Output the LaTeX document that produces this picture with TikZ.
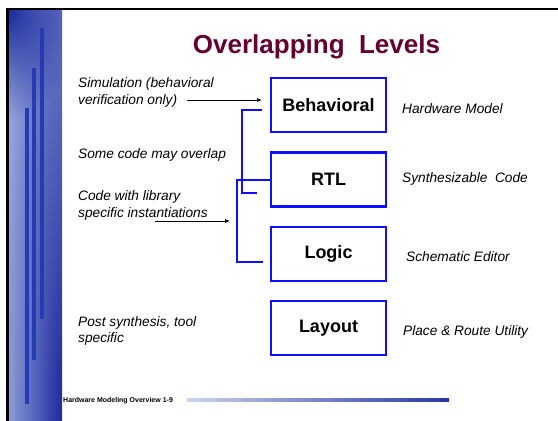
\documentclass[tikz,border=0pt]{standalone}
\usepackage{fontspec}
\setmainfont{Liberation Sans}
\usetikzlibrary{arrows.meta,fadings}
\definecolor{boxblue}{RGB}{15,15,250}
\definecolor{paneldark}{RGB}{28,42,158}
\definecolor{panellight}{RGB}{158,174,224}
\definecolor{barblue}{RGB}{38,58,180}
\definecolor{titlecol}{RGB}{102,0,51}
\definecolor{footlight}{RGB}{205,210,235}
\definecolor{footdark}{RGB}{40,55,165}
\tikzfading[name=radfade, inner color=transparent!0, outer color=transparent!100]
\begin{document}
\begin{tikzpicture}[x=1pt,y=-1pt,
  levelbox/.style={draw=boxblue, line width=2.5pt, minimum width=115pt, minimum height=54pt,
    inner sep=0pt, font=\fontsize{18}{20}\selectfont\bfseries},
  bracket/.style={draw=boxblue, line width=2pt},
  ptr/.style={-{Latex[length=5pt,width=4pt]}, line width=0.8pt},
  lt/.style={anchor=base west, inner sep=0pt, font=\fontsize{13.7}{16.5}\selectfont\itshape},
  rt/.style={anchor=base west, inner sep=0pt, font=\fontsize{13.7}{16.5}\selectfont\itshape}]
\useasboundingbox (0,0) rectangle (558,421);
\fill[white] (0,0) rectangle (558,421);
% left panel
\fill[panellight] (9,10) rectangle (62,421);
\begin{scope}
  \clip (9,10) rectangle (62,421);
  \fill[paneldark, path fading=radfade] (9,10) ellipse (70pt and 110pt);
  \fill[paneldark, path fading=radfade] (62,421) ellipse (62pt and 700pt);
\end{scope}
\fill[barblue] (25,108) rectangle (29,404);
\fill[barblue] (32,68) rectangle (36,360);
\fill[barblue] (40,28) rectangle (44,319);
% frame lines
\draw[line width=2.5pt] (7.5,421) -- (7.5,9) -- (558,9);
% title
\node[anchor=base, inner sep=0pt, text=titlecol, font=\fontsize{26}{30}\selectfont\bfseries]
  (title) at (316.5,53) {Overlapping\ \ Levels};
% level boxes
\node[levelbox] (beh) at (328.5,105) {Behavioral};
\node[levelbox] (rtl) at (328.5,179.5) {RTL};
\node[levelbox] (logic) at (328.5,254) {Logic};
\node[levelbox] (layout) at (328.5,328) {Layout};
% brackets
\coordinate (b1top) at (262,110);
\coordinate (b1bot) at (257,193);
\draw[bracket] (b1top) -- ++(-20,0) |- (b1bot);
\coordinate (b2bot) at (263,262);
\draw[bracket] (rtl.west) -- ++(-33,0) |- (b2bot);
% left texts
\node[lt] (sim1) at (78,87) {Simulation (behavioral};
\node[lt] (sim2) at (78,104) {verification only)};
\node[lt] (ovl) at (78,158) {Some code may overlap};
\node[lt] (code1) at (78,200) {Code with library};
\node[lt] (code2) at (78,217) {specific instantiations};
\node[lt] (post1) at (78,326) {Post synthesis, tool};
\node[lt] (post2) at (78,342) {specific};
% arrows
\coordinate (a1s) at (187,100);
\coordinate (a1e) at (262,100);
\draw[ptr] (a1s) -- (a1e);
\coordinate (a2s) at (155,221);
\coordinate (a2e) at (230,221);
\draw[ptr] (a2s) -- (a2e);
% right texts
\node[rt] (hw) at (402,113) {Hardware Model};
\node[rt] (syn) at (402,182) {Synthesizable\ \ Code};
\node[rt] (sch) at (406,261) {Schematic Editor};
\node[rt] (pru) at (403,335) {Place \& Route Utility};
% footer
\node[anchor=base west, inner sep=0pt, font=\fontsize{7}{8}\selectfont\bfseries]
  (foot) at (63,402) {Hardware Modeling Overview 1-9};
\shade[left color=footlight, right color=footdark] (187,398.5) rectangle (449,401.5);
\end{tikzpicture}
\end{document}
